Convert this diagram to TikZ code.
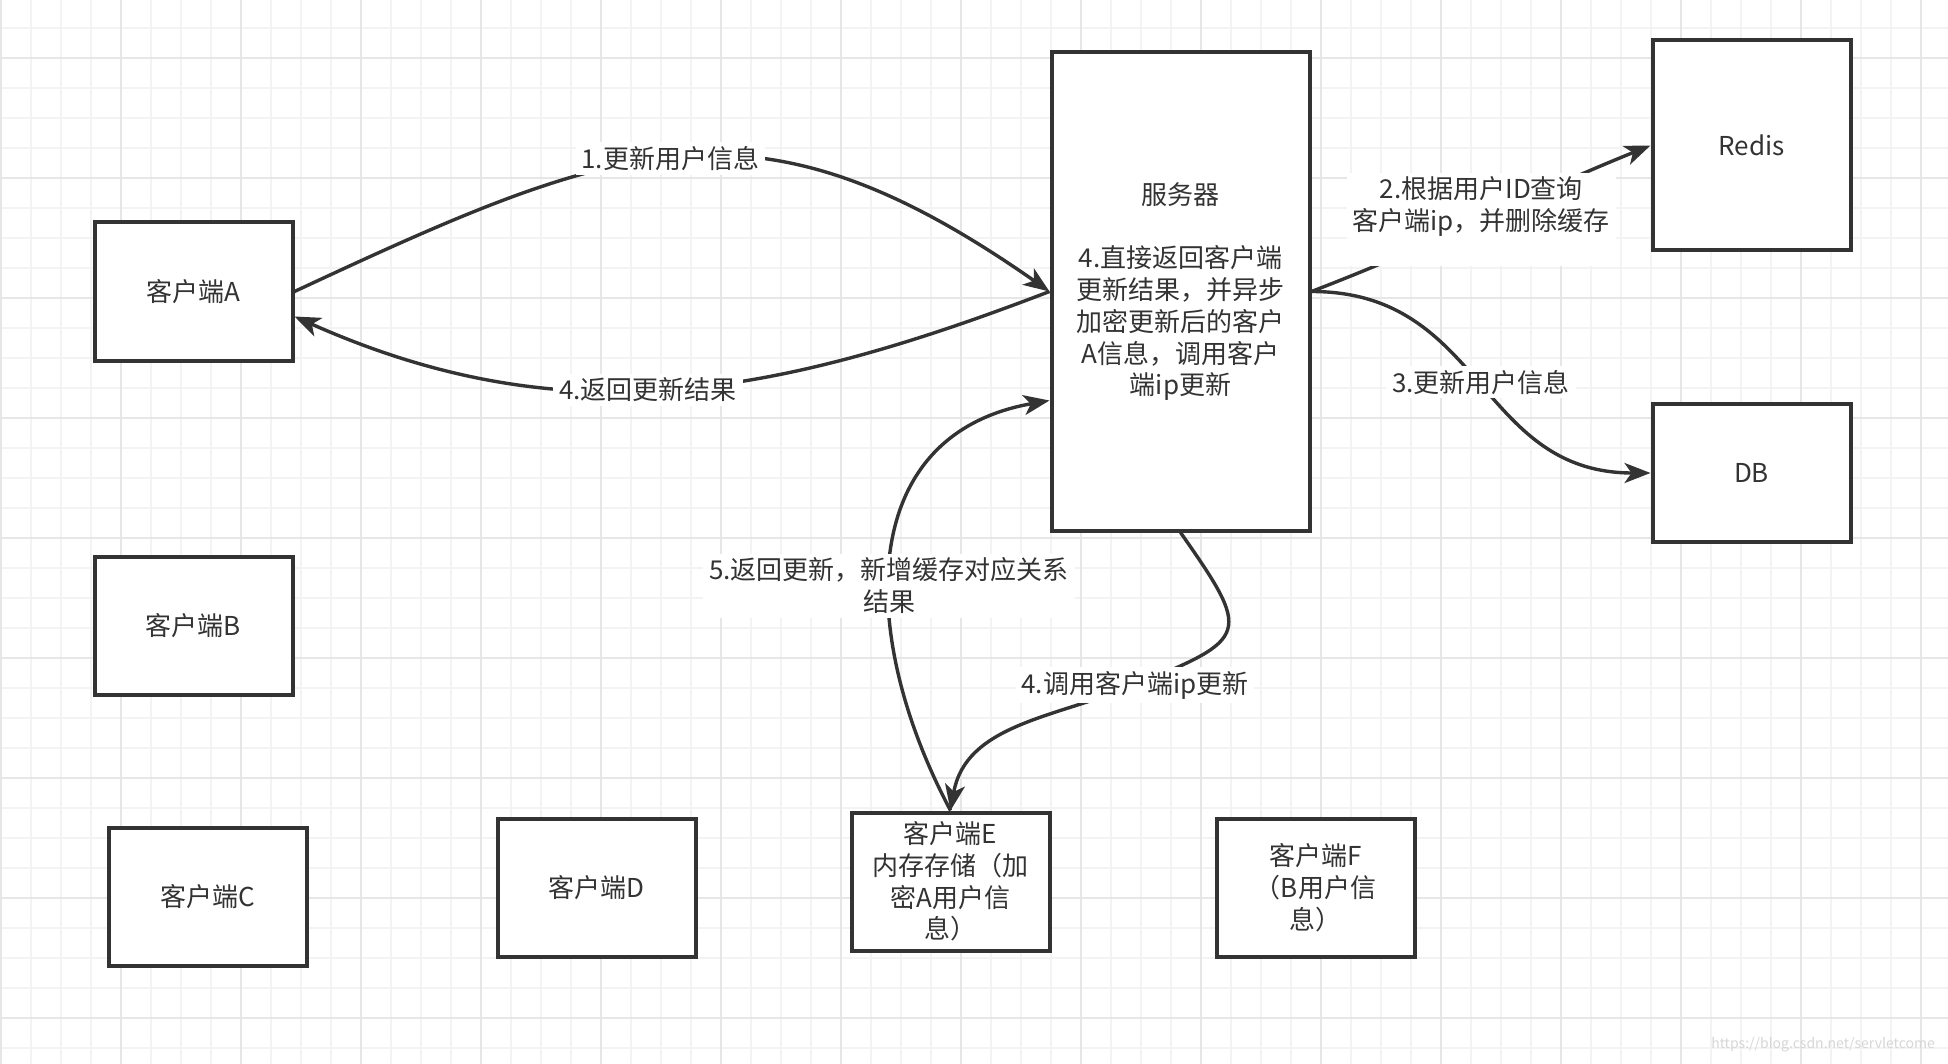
\documentclass[tikz,border=0pt]{standalone}
\usepackage{fontspec}
\newfontfamily\cjkfont{Noto Sans CJK SC}
\usepackage{tikz}
\usetikzlibrary{arrows.meta}
\definecolor{inkgray}{RGB}{51,51,51}
\definecolor{gridminor}{RGB}{243,243,243}
\definecolor{gridmajor}{RGB}{230,230,230}
\definecolor{markgray}{RGB}{214,214,214}
\newcommand{\diagfont}{\cjkfont\fontsize{13pt}{15.9pt}\selectfont}

\begin{document}
\begin{tikzpicture}[
  x=0.5pt, y=0.5pt,
  every node/.style={font=\diagfont, text=inkgray},
  cbox/.style={
    draw=inkgray, fill=white, line width=2pt,
    align=center, inner sep=2pt,
    minimum width=99pt, minimum height=69pt
  },
  srvbox/.style={cbox, minimum width=129pt, minimum height=239pt},
  lbl/.style={fill=white, align=center, inner xsep=3pt, inner ysep=2pt},
  arr/.style={-{Stealth[length=13pt, width=10pt, inset=3.5pt]}, line width=1.7pt, draw=inkgray},
  gminor/.style={draw=gridminor, line width=1pt},
  gmajor/.style={draw=gridmajor, line width=1pt}
]

%% Fond quadrillé
\useasboundingbox (0,0) rectangle (1948,-1064);
\fill[white] (0,0) rectangle (1948,-1064);
\foreach \gx in {0,...,64}
  \draw[gminor] ({1+30*\gx},0) -- ({1+30*\gx},-1064);
\foreach \gy in {0,...,34}
  \draw[gminor] (0,{-28-30*\gy}) -- (1948,{-28-30*\gy});
\foreach \gx in {0,...,16}
  \draw[gmajor] ({1+120*\gx},0) -- ({1+120*\gx},-1064);
\foreach \gy in {0,...,8}
  \draw[gmajor] (0,{-58-120*\gy}) -- (1948,{-58-120*\gy});

%% Clients
\node[cbox] (cA) at (193.5,-291.5) {客户端A};
\node[cbox] (cB) at (193.5,-625.5) {客户端B};
\node[cbox] (cC) at (207.5,-897)   {客户端C};
\node[cbox] (cD) at (596.5,-887.5) {客户端D};
\node[cbox] (cE) at (950.5,-881.5) {客户端E\\内存存储（加\\密A用户信\\息）};
\node[cbox] (cF) at (1315.5,-887.5) {客户端F\\（B用户信\\息）};

%% Serveur, cache et base
\node[srvbox] (srv) at (1180.5,-291.5)
  {服务器\\[15.9pt]4.直接返回客户端\\更新结果，并异步\\加密更新后的客户\\A信息，调用客户\\端ip更新};
\node[cbox, minimum height=105pt] (redis) at (1751.5,-145.5) {Redis};
\node[cbox] (db) at (1751.5,-473) {DB};

\coordinate (w4) at (1135,-685);

%% Client A <-> serveur
\draw[arr] (cA.east) to[out=25, in=145, looseness=1.22]
  node[lbl, pos=0.48] {1.更新用户信息} (srv.west);
\draw[arr] (srv.west) to[out=201, in=-24]
  node[lbl, pos=0.53] {4.返回更新结果} ([yshift=-12.5pt]cA.east);

%% Serveur vers Redis et DB
\draw[arr] (srv.east) to[out=21, in=202]
  node[lbl] {2.根据用户ID查询\\客户端ip，并删除缓存\\ \mbox{}} (redis.west);
\draw[arr] (srv.east) to[out=0, in=180, looseness=1.15]
  node[lbl] {3.更新用户信息} (db.west);

%% Serveur <-> client E
\draw[arr] (cE.north) to[out=118, in=190, looseness=1.2]
  node[lbl, pos=0.43] {5.返回更新，新增缓存对应关系\\结果} ([yshift=-54.5pt]srv.west);
\draw[arr] (srv.south) to[out=-55, in=22, looseness=2] (w4)
  node[lbl] {4.调用客户端ip更新} to[out=202, in=80] (cE.north);

\node[font=\cjkfont\fontsize{7pt}{8pt}\selectfont, text=markgray] (wm) at (1823,-1045)
  {https://blog.csdn.net/servletcome};

\end{tikzpicture}
\end{document}
